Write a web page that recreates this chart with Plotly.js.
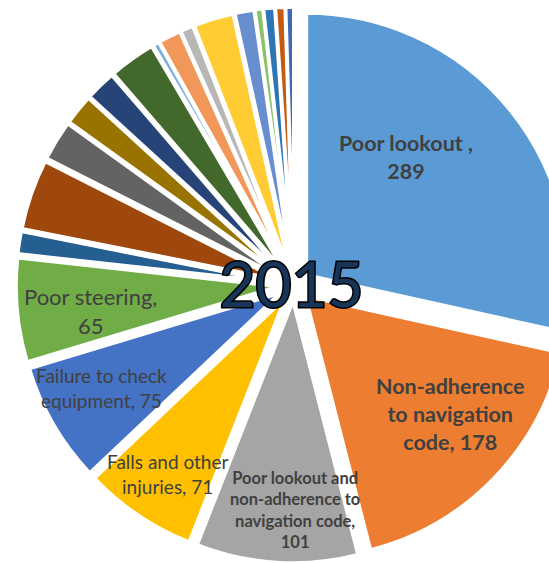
<!DOCTYPE html>
<html>
<head>
<meta charset="utf-8">
<script src="https://cdn.plot.ly/plotly-3.0.1.min.js"></script>
<style>
html, body { margin: 0; padding: 0; width: 549px; height: 563px; overflow: hidden; background: #fff; }
#chart { position: absolute; left: 16px; top: 7px; width: 556px; height: 556px; }
.gtitle { stroke: #000; stroke-width: 3px; paint-order: stroke fill; }
</style>
</head>
<body>
<div id="chart"></div>
<script>
// ---- data ----
var categories = [
  "Poor lookout ",
  "Non-adherence to navigation code",
  "Poor lookout and non-adherence to navigation code",
  "Falls and other injuries",
  "Failure to check equipment",
  "Poor steering",
  "Cause 7", "Cause 8", "Cause 9", "Cause 10", "Cause 11", "Cause 12",
  "Cause 13", "Cause 14", "Cause 15", "Cause 16", "Cause 17", "Cause 18",
  "Cause 19", "Cause 20", "Cause 21"
];
var values = [289, 178, 101, 71, 75, 65,
  14, 44, 25, 19, 19, 29,
  4, 14, 8, 25, 12, 5,
  7, 6, 5];
var colors = [
  "#5B9BD5", "#ED7D31", "#A5A5A5", "#FFC000", "#4472C4", "#70AD47",
  "#255E91", "#9E480E", "#636363", "#997300", "#264478", "#43682B",
  "#7CAFDD", "#F1975A", "#B7B7B7", "#FFCD33", "#698ED0", "#8CC168",
  "#2E75B6", "#C55A11", "#3F68B5"
];
var chartTitle = "2015";
// wrapped label text (prefix before the value) for the labelled slices
var labelPrefix = [
  "Poor lookout ,<br>",
  "Non-adherence<br>to navigation<br>code, ",
  "Poor lookout and<br>non-adherence to<br>navigation code,<br>",
  "Falls and other<br>injuries, ",
  "Failure to check<br>equipment, ",
  "Poor steering,<br>"
];

// ---- label placement (page pixels) & styles ----
var labelPos = [[406, 157], [450, 414], [295, 510], [167, 474], [101, 388], [90, 311]];
var labelSize = [21.5, 21.5, 16.5, 19, 19, 22];
var labelBold = [true, true, true, false, false, false];

var DIV_L = 16, DIV_T = 7, DIV_S = 556;
function px2paper(p) { return [(p[0] - DIV_L) / DIV_S, 1 - (p[1] - DIV_T) / DIV_S]; }

var annotations = labelPrefix.map(function (pre, i) {
  var pp = px2paper(labelPos[i]);
  var t = pre + values[i];
  return {
    xref: "paper", yref: "paper", x: pp[0], y: pp[1],
    xanchor: "center", yanchor: "middle", showarrow: false, align: "center",
    text: labelBold[i] ? "<b>" + t + "</b>" : t,
    font: { family: "Lato, 'Open Sans', sans-serif", size: labelSize[i], color: "#404040" }
  };
});

var trace = {
  type: "pie",
  labels: categories,
  values: values,
  sort: false,
  direction: "clockwise",
  rotation: 0,
  pull: 0.061,
  marker: { colors: colors, line: { color: "#ffffff", width: 3.5 } },
  textinfo: "none",
  hoverinfo: "label+value"
};

var tp = px2paper([291.5, 285]);
var layout = {
  width: DIV_S, height: DIV_S,
  margin: { l: 0, r: 0, t: 0, b: 0 },
  showlegend: false,
  paper_bgcolor: "rgba(0,0,0,0)",
  title: {
    text: chartTitle,
    x: tp[0], y: tp[1], xref: "paper", yref: "paper",
    xanchor: "center", yanchor: "middle",
    font: { family: "Lato, sans-serif", size: 62, color: "#163559" }
  },
  annotations: annotations
};

Plotly.newPlot("chart", [trace], layout, { displayModeBar: false, staticPlot: true });
</script>
</body>
</html>
